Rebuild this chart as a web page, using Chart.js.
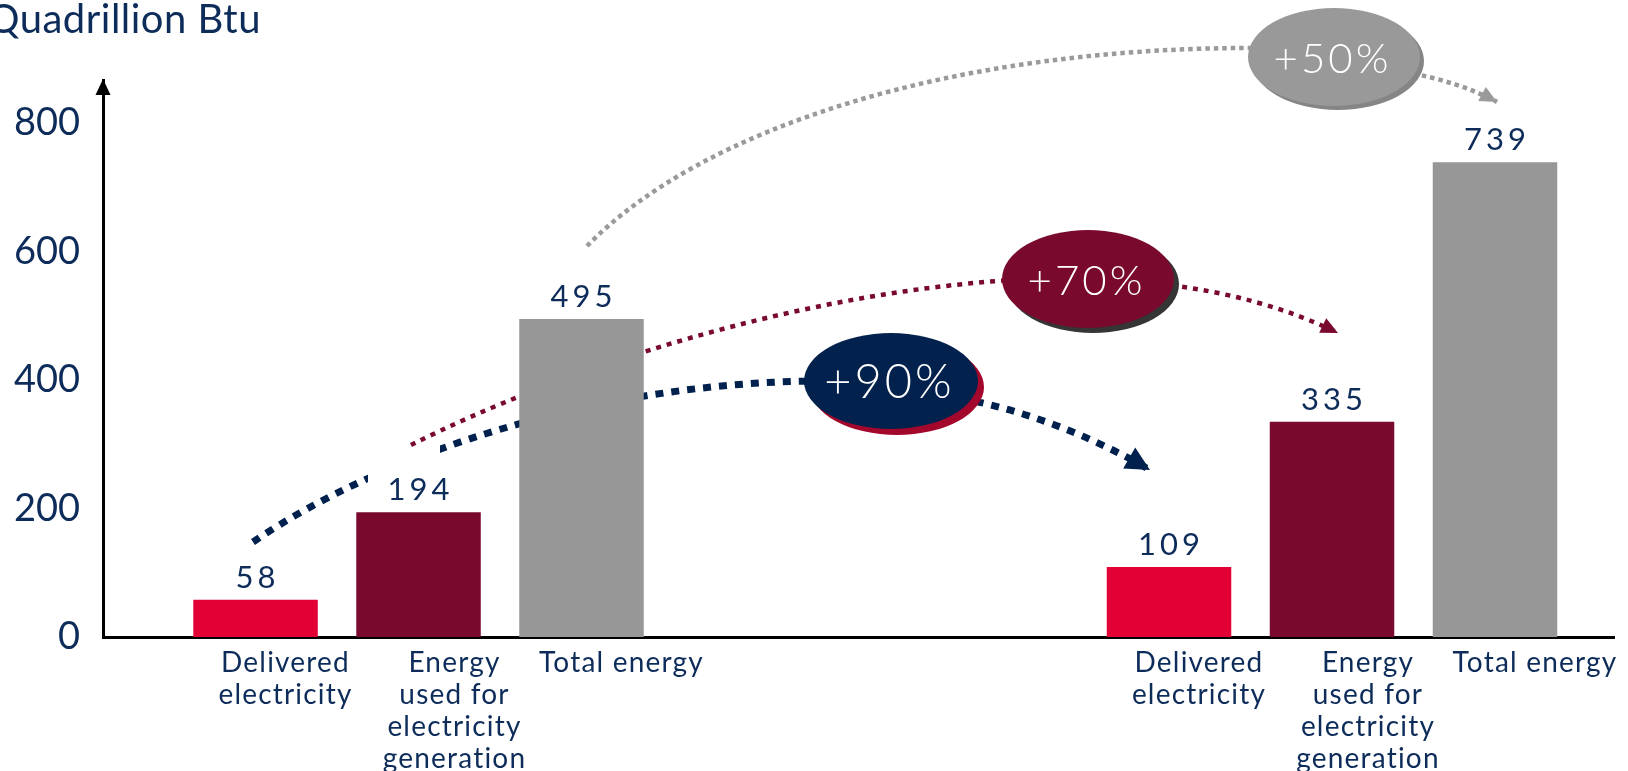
<!DOCTYPE html>
<html><head><meta charset="utf-8">
<script src="https://cdn.jsdelivr.net/npm/chart.js@4.4.0/dist/chart.umd.min.js"></script>
<style>html,body{margin:0;padding:0;background:#fff;overflow:hidden}#wrap{width:1628px;height:771px}</style>
</head><body><div id="wrap"><canvas id="c" width="1628" height="771"></canvas></div>
<script>
// ---- data ----
const periods = [1, 2];
const seriesNames = ["Delivered electricity", "Energy used for electricity generation", "Total energy"];
const seriesLines = [["Delivered", "electricity"], ["Energy", "used for", "electricity", "generation"], ["Total energy"]];
const delivered = [58, 109];
const generation = [194, 335];
const totalEnergy = [495, 739];
const changeLabels = ["+90%", "+70%", "+50%"];
const yTickValues = [0, 200, 400, 600, 800];
const yTitle = "Quadrillion Btu";

// ---- style ----
const COLORS = ['#e20034', '#790a2e', '#979797'];
const NAVY = '#0d2c5a';
const FONT = 'Lato, "Open Sans", sans-serif';

function setFont(ctx, size, weight) { ctx.font = (weight || 400) + ' ' + size + 'px ' + FONT; }

function drawArrowHead(ctx, tip, from, len, hw, color) {
  const a = Math.atan2(tip[1] - from[1], tip[0] - from[0]);
  const bx = tip[0] - len * Math.cos(a), by = tip[1] - len * Math.sin(a);
  ctx.save();
  ctx.fillStyle = color;
  ctx.beginPath();
  ctx.moveTo(tip[0], tip[1]);
  ctx.lineTo(bx + hw * Math.sin(a), by - hw * Math.cos(a));
  ctx.lineTo(bx - hw * Math.sin(a), by + hw * Math.cos(a));
  ctx.closePath();
  ctx.fill();
  ctx.restore();
}

// annotation geometry (decorative arrows between the two periods)
const arrows = [
  { color: '#00214d', width: 7, dash: [8, 8],
    a: [[253, 542], [380, 455], [600, 380], [830, 381]],
    b: [[960, 398], [1060, 418], [1150, 470]], head: [24, 12],
    ell: { cx: 891, cy: 381, rx: 87, ry: 48, fill: '#02214c', shadow: '#a3072c', dx: 6, dy: 6 },
    text: { x: 888, y: 383, size: 47 } },
  { color: '#790a2e', width: 4.5, dash: [5, 6],
    a: [[411, 445], [560, 370], [800, 290], [1030, 279]],
    b: [[1160, 284], [1260, 295], [1338, 333]], head: [17, 8],
    ell: { cx: 1088, cy: 279, rx: 86, ry: 49, fill: '#790a2e', shadow: '#353535', dx: 5, dy: 5 },
    text: { x: 1085, y: 281, size: 42 } },
  { color: '#9a9a9a', width: 4.5, dash: [4.5, 4],
    a: [[587, 246], [700, 130], [950, 45], [1270, 48]],
    b: [[1405, 72], [1460, 82], [1497, 102]], head: [17, 8],
    ell: { cx: 1334, cy: 57, rx: 86, ry: 49, fill: '#999999', shadow: '#858585', dx: 4, dy: 4 },
    text: { x: 1331, y: 59, size: 42 } }
];

function strokeCurve(ctx, ar) {
  ctx.save();
  ctx.strokeStyle = ar.color; ctx.lineWidth = ar.width; ctx.setLineDash(ar.dash); ctx.lineCap = 'butt';
  const a = ar.a;
  ctx.beginPath(); ctx.moveTo(a[0][0], a[0][1]);
  ctx.bezierCurveTo(a[1][0], a[1][1], a[2][0], a[2][1], a[3][0], a[3][1]); ctx.stroke();
  const b = ar.b;
  ctx.beginPath(); ctx.moveTo(b[0][0], b[0][1]);
  ctx.quadraticCurveTo(b[1][0], b[1][1], b[2][0], b[2][1]); ctx.stroke();
  ctx.restore();
  drawArrowHead(ctx, b[2], b[1], ar.head[0], ar.head[1], ar.color);
}
function drawBadge(ctx, ar, label) {
  const e = ar.ell;
  ctx.save();
  ctx.fillStyle = e.shadow;
  ctx.beginPath(); ctx.ellipse(e.cx + e.dx, e.cy + e.dy, e.rx, e.ry, 0, 0, Math.PI * 2); ctx.fill();
  ctx.fillStyle = e.fill;
  ctx.beginPath(); ctx.ellipse(e.cx, e.cy, e.rx, e.ry, 0, 0, Math.PI * 2); ctx.fill();
  ctx.fillStyle = '#ffffff';
  setFont(ctx, ar.text.size, 300);
  ctx.letterSpacing = '3px';
  ctx.textAlign = 'center'; ctx.textBaseline = 'middle';
  ctx.fillText(label, ar.text.x + 1.5, ar.text.y);
  ctx.restore();
}

const annot = {
  id: 'annot',
  beforeDatasetsDraw(chart) {
    const ctx = chart.ctx;
    // navy arrow, then the white box of the "194" label hides part of it
    strokeCurve(ctx, arrows[0]);
    ctx.save(); ctx.fillStyle = '#fff'; ctx.fillRect(368, 438, 72, 62); ctx.restore();
    strokeCurve(ctx, arrows[1]);
    strokeCurve(ctx, arrows[2]);
    arrows.forEach((ar, i) => drawBadge(ctx, ar, changeLabels[i]));
  },
  afterDatasetsDraw(chart) {
    const ctx = chart.ctx;
    const labelDx = [30, 36, 40];
    chart.data.datasets.forEach((ds, di) => {
      const meta = chart.getDatasetMeta(di);
      meta.data.forEach((bar, i) => {
        ctx.save();
        ctx.fillStyle = NAVY;
        setFont(ctx, 31, 400);
        ctx.letterSpacing = '4px';
        ctx.textAlign = 'center'; ctx.textBaseline = 'alphabetic';
        ctx.fillText(String(ds.data[i]), bar.x + 2, bar.y - 12);
        setFont(ctx, 28, 400);
        ctx.letterSpacing = '1.2px';
        ctx.textBaseline = 'middle';
        seriesLines[di].forEach((line, li) => {
          ctx.fillText(line, bar.x + labelDx[di], chart.chartArea.bottom + 26 + li * 32);
        });
        ctx.restore();
      });
    });
  },
  afterDraw(chart) {
    const ctx = chart.ctx, ca = chart.chartArea;
    // arrow tip on the value axis
    ctx.save();
    ctx.fillStyle = '#000';
    ctx.beginPath();
    ctx.moveTo(ca.left, ca.top - 1);
    ctx.lineTo(ca.left - 7.5, ca.top + 15);
    ctx.lineTo(ca.left + 7.5, ca.top + 15);
    ctx.closePath(); ctx.fill();
    // unit title
    ctx.fillStyle = NAVY;
    setFont(ctx, 40, 400);
    ctx.letterSpacing = '0.5px';
    ctx.textAlign = 'right'; ctx.textBaseline = 'middle';
    ctx.fillText(yTitle, 261, 20);
    ctx.restore();
  }
};

new Chart(document.getElementById('c'), {
  type: 'bar',
  data: {
    labels: periods,
    datasets: [delivered, generation, totalEnergy].map((d, i) => ({
      label: seriesNames[i], data: d, backgroundColor: COLORS[i],
      categoryPercentage: 0.5353, barPercentage: 0.7638
    }))
  },
  options: {
    responsive: false, animation: false,
    layout: { padding: { left: 0, right: 14, top: 80, bottom: 134 } },
    plugins: { legend: { display: false }, tooltip: { enabled: false } },
    scales: {
      x: {
        type: 'linear', min: 0.6546, max: 2.3087, offset: false, z: 1,
        grid: { display: false, drawTicks: false }, ticks: { display: false },
        border: { display: true, color: '#000', width: 3 },
        afterBuildTicks: s => { s.ticks = periods.map(v => ({ value: v })); },
        afterFit: s => { s.height = 0; }
      },
      y: {
        min: 0, max: 867, z: 1,
        grid: { display: false, drawTicks: false },
        border: { display: true, color: '#000', width: 3 },
        ticks: { padding: 23, color: NAVY, font: { family: FONT, size: 38 } },
        afterBuildTicks: s => { s.ticks = yTickValues.map(v => ({ value: v })); },
        afterFit: s => { s.width = 103; }
      }
    }
  },
  plugins: [annot]
});
</script></body></html>
